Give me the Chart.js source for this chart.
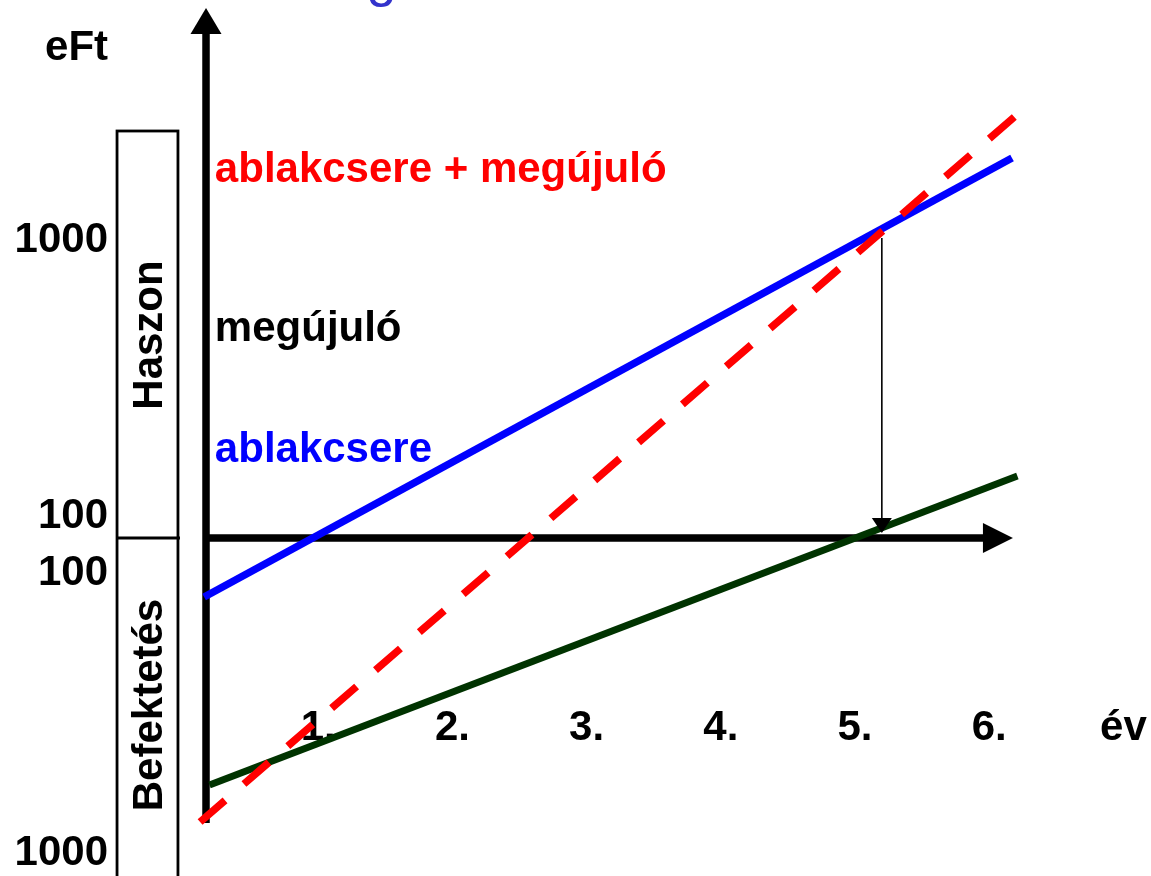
<!DOCTYPE html>
<html>
<head>
<meta charset="utf-8">
<script src="https://cdn.jsdelivr.net/npm/chart.js@4/dist/chart.umd.min.js"></script>
<style>
  html, body { margin: 0; padding: 0; background: #ffffff; }
  #wrap { width: 1151px; height: 876px; }
</style>
</head>
<body>
<div id="wrap"><canvas id="c" width="1151" height="876"></canvas></div>
<script>
// ---------- data (schematic) ----------
// x: years, y: schematic eFt units (0 = time axis, positive = Haszon, negative = Befektetés)
const yearValues = [1, 2, 3, 4, 5, 6, 7];
const yearLabels = ['1.', '2.', '3.', '4.', '5.', '6.', 'év'];

const seriesNames = ['ablakcsere + megújuló', 'ablakcsere', 'megújuló'];
const redX = [0.12, 6.23];
const redY = [-284, 426];
const blueX = [0.15, 6.17];
const blueY = [-59, 380];
const greenX = [0.19, 6.21];
const greenY = [-247, 62];

const yTickLabels = ['1000', '100', '100', '1000'];
const yTickValues = [286, 10, -47, -327];
const yUnitLabel = 'eFt';
const sideLabels = ['Haszon', 'Befektetés'];

// payback marker (year where blue and red cross)
const paybackYear = 5.2;
const paybackTop = 300;

// ---------- layout (positions in scale units) ----------
const X_MIN = -1.3711, X_MAX = 7.2057, Y_MIN = -338, Y_MAX = 538;
const layout = {
  axisX: 0.164, axisYBottom: -285, axisYTop: 530, axisXEnd: 6.177,
  boxLeft: -0.499, boxRight: -0.045, boxTop: 407, boxBottom: -400, dividerRight: -0.03,
  tickLabelRight: -0.566, unitLabelY: 478,
  yearLabelY: -202,
  legendX: 0.23, legendRedY: 356, legendBlackY: 197, legendBlueY: 76,
  sideBaselineX: -0.164, hasznonY: 203, befektetesY: -167,
  titleX: 1.36, titleY: 542
};
const FONT = '"Liberation Sans", Arial, Helvetica, sans-serif';

function pts(xs, ys) { return xs.map((x, i) => ({ x: x, y: ys[i] })); }

const drawPlugin = {
  id: 'schematic',
  beforeDatasetsDraw(chart) {
    const ctx = chart.ctx, sx = chart.scales.x, sy = chart.scales.y;
    const X = v => sx.getPixelForValue(v), Y = v => sy.getPixelForValue(v);
    ctx.save();
    // side boxes
    ctx.strokeStyle = '#000'; ctx.lineWidth = 2.8;
    ctx.strokeRect(X(layout.boxLeft), Y(layout.boxTop), X(layout.boxRight) - X(layout.boxLeft), Y(layout.boxBottom) - Y(layout.boxTop));
    ctx.beginPath();
    ctx.moveTo(X(layout.boxLeft), Y(0)); ctx.lineTo(X(layout.dividerRight), Y(0));
    ctx.stroke();

    // axes
    ctx.lineWidth = 7.5; ctx.lineCap = 'butt'; ctx.strokeStyle = '#000'; ctx.fillStyle = '#000';
    const ax = X(layout.axisX), ay = Y(0);
    const topTip = Y(layout.axisYTop), rightTip = X(layout.axisXEnd);
    ctx.beginPath();
    ctx.moveTo(ax, Y(layout.axisYBottom)); ctx.lineTo(ax, topTip + 24);
    ctx.moveTo(ax - 3.75, ay); ctx.lineTo(rightTip - 28, ay);
    ctx.stroke();
    ctx.beginPath();
    ctx.moveTo(ax, topTip); ctx.lineTo(ax - 15.5, topTip + 26); ctx.lineTo(ax + 15.5, topTip + 26); ctx.closePath();
    ctx.fill();
    ctx.beginPath();
    ctx.moveTo(rightTip, ay); ctx.lineTo(rightTip - 30, ay - 15); ctx.lineTo(rightTip - 30, ay + 15); ctx.closePath();
    ctx.fill();

    // texts
    ctx.font = 'bold 42px ' + FONT;
    ctx.textBaseline = 'alphabetic';
    ctx.fillStyle = '#000';
    ctx.textAlign = 'right';
    ctx.fillText(yUnitLabel, X(layout.tickLabelRight), Y(layout.unitLabelY));
    yTickLabels.forEach((t, i) => ctx.fillText(t, X(layout.tickLabelRight), Y(yTickValues[i])));
    ctx.textAlign = 'center';
    yearLabels.forEach((t, i) => ctx.fillText(t, X(yearValues[i]), Y(layout.yearLabelY)));

    ctx.textAlign = 'left';
    ctx.fillStyle = '#ff0000';
    ctx.fillText(seriesNames[0], X(layout.legendX), Y(layout.legendRedY));
    ctx.fillStyle = '#000000';
    ctx.fillText(seriesNames[2], X(layout.legendX), Y(layout.legendBlackY));
    ctx.fillStyle = '#0000ff';
    ctx.fillText(seriesNames[1], X(layout.legendX), Y(layout.legendBlueY));

    // rotated side labels
    ctx.fillStyle = '#000';
    ctx.textAlign = 'center';
    [[sideLabels[0], layout.hasznonY], [sideLabels[1], layout.befektetesY]].forEach(([t, yv]) => {
      ctx.save();
      ctx.translate(X(layout.sideBaselineX), Y(yv));
      ctx.rotate(-Math.PI / 2);
      ctx.fillText(t, 0, 0);
      ctx.restore();
    });

    // cut-off title glyph at the very top
    ctx.font = '54px ' + FONT;
    ctx.fillStyle = '#3333cc';
    ctx.textAlign = 'left';
    ctx.fillText('g', X(layout.titleX), Y(layout.titleY));
    ctx.restore();
  },
  afterDatasetsDraw(chart) {
    const ctx = chart.ctx, sx = chart.scales.x, sy = chart.scales.y;
    const px = sx.getPixelForValue(paybackYear);
    const tip = sy.getPixelForValue(0) - 5;
    ctx.save();
    ctx.strokeStyle = '#000'; ctx.fillStyle = '#000'; ctx.lineWidth = 1.6;
    ctx.beginPath();
    ctx.moveTo(px, sy.getPixelForValue(paybackTop)); ctx.lineTo(px, tip - 14);
    ctx.stroke();
    ctx.beginPath();
    ctx.moveTo(px, tip); ctx.lineTo(px - 10, tip - 15); ctx.lineTo(px + 10, tip - 15); ctx.closePath();
    ctx.fill();
    ctx.restore();
  }
};

new Chart(document.getElementById('c'), {
  type: 'line',
  data: {
    datasets: [
      { label: seriesNames[0], data: pts(redX, redY), borderColor: '#ff0000', borderWidth: 7.5, borderDash: [33, 25], borderCapStyle: 'butt', pointRadius: 0, fill: false, order: 0 },
      { label: seriesNames[1], data: pts(blueX, blueY), borderColor: '#0000ff', borderWidth: 7.5, pointRadius: 0, fill: false, order: 1 },
      { label: seriesNames[2], data: pts(greenX, greenY), borderColor: '#003300', borderWidth: 7, pointRadius: 0, fill: false, order: 2 }
    ]
  },
  options: {
    responsive: false,
    devicePixelRatio: 1,
    animation: false,
    layout: { padding: 0 },
    plugins: { legend: { display: false }, title: { display: false }, tooltip: { enabled: false } },
    scales: {
      x: { type: 'linear', min: X_MIN, max: X_MAX, display: false },
      y: { type: 'linear', min: Y_MIN, max: Y_MAX, display: false }
    }
  },
  plugins: [drawPlugin]
});
</script>
</body>
</html>
